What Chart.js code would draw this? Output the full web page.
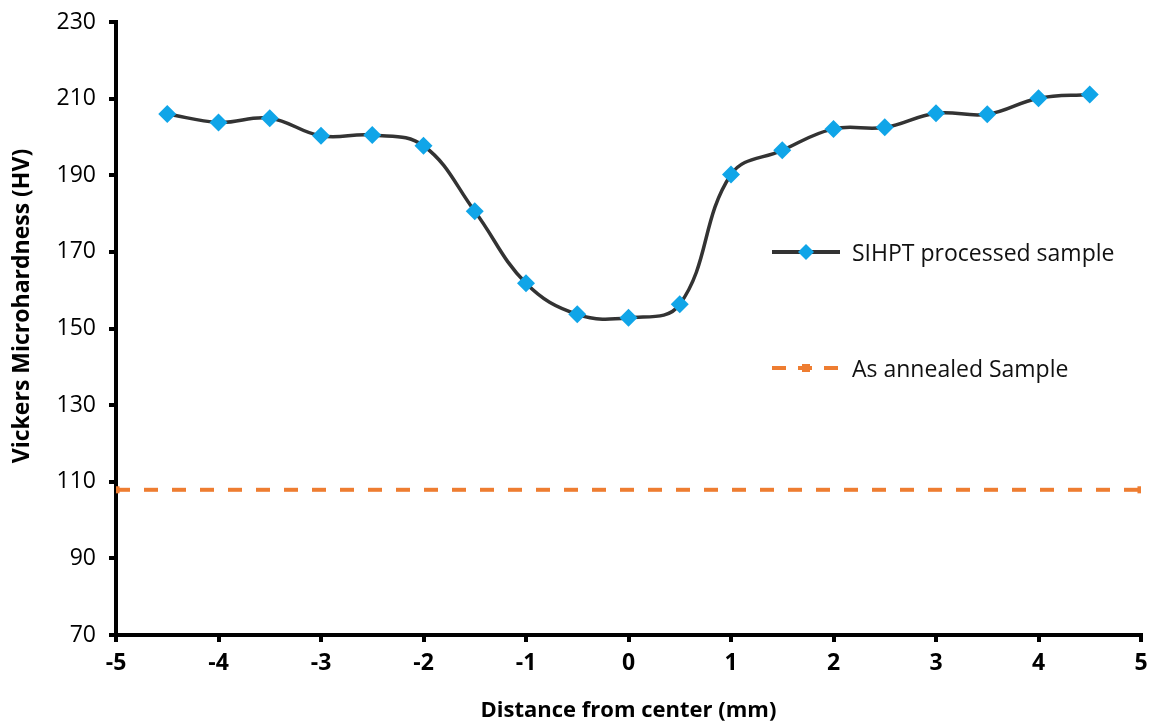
<!DOCTYPE html>
<html>
<head>
<meta charset="utf-8">
<script src="https://cdn.jsdelivr.net/npm/chart.js@4.4.1/dist/chart.umd.min.js"></script>
<style>
  html, body { margin: 0; padding: 0; background: #fff; }
  #wrap { position: relative; width: 1154px; height: 724px; }
  .legend { position: absolute; font-family: "Open Sans", sans-serif; font-size: 23px; color: #111; display: flex; align-items: center; height: 30px; }
  .legend canvas { margin-right: 10px; }
</style>
</head>
<body>
<div id="wrap">
  <canvas id="hardnessChart" width="1154" height="724"></canvas>
  <div class="legend" style="left:772px; top:237px;"><canvas id="leg1" width="70" height="20"></canvas>SIHPT processed sample</div>
  <div class="legend" style="left:772px; top:353px;"><canvas id="leg2" width="70" height="20"></canvas>As annealed Sample</div>
</div>
<script>
// distance from center (mm) and hardness readings
const positions = [-4.5, -4, -3.5, -3, -2.5, -2, -1.5, -1, -0.5, 0, 0.5, 1, 1.5, 2, 2.5, 3, 3.5, 4, 4.5];
const sihptHardness = [206, 203.8, 204.9, 200.3, 200.5, 197.7, 180.6, 161.8, 153.7, 152.8, 156.3, 190.2, 196.5, 202.1, 202.5, 206.2, 205.9, 210.1, 211.1];
const annealedPositions = [-5, 5];
const annealedHardness = [107.9, 107.9];
const xTicks = [-5, -4, -3, -2, -1, 0, 1, 2, 3, 4, 5];

const blue = '#10a5e8';
const orange = '#ee7d31';

// y axis title, drawn a bit above the plot centre like the original
const yTitlePlugin = {
    id: 'yTitle',
    afterDraw(chart) {
        const c = chart.ctx;
        c.save();
        c.translate(22, 306);
        c.rotate(-Math.PI / 2);
        c.font = 'bold 23px "Open Sans"';
        c.fillStyle = '#000';
        c.textAlign = 'center';
        c.textBaseline = 'middle';
        c.fillText('Vickers Microhardness (HV)', 0, 0);
        c.restore();
    }
};

document.addEventListener("DOMContentLoaded", function () {
    const ctx = document.getElementById('hardnessChart').getContext('2d');
    new Chart(ctx, {
        type: 'line',
        data: {
            datasets: [{
                label: 'SIHPT processed sample',
                data: positions.map((x, i) => ({ x: x, y: sihptHardness[i] })),
                borderColor: '#333333',
                borderWidth: 3.5,
                tension: 0.4,
                pointStyle: 'rectRot',
                pointRadius: 9,
                pointBackgroundColor: blue,
                pointBorderColor: blue,
                pointBorderWidth: 0
            }, {
                label: 'As annealed Sample',
                data: annealedPositions.map((x, i) => ({ x: x, y: annealedHardness[i] })),
                borderColor: orange,
                borderWidth: 4,
                borderDash: [14, 14],
                pointStyle: 'rect',
                pointRadius: 5,
                pointBackgroundColor: orange,
                pointBorderColor: orange,
                pointBorderWidth: 0
            }]
        },
        options: {
            responsive: false,
            animation: false,
            layout: { autoPadding: false, padding: { top: 22, right: 13, left: 0, bottom: 0 } },
            plugins: { legend: { display: false }, tooltip: { enabled: false } },
            scales: {
                x: {
                    type: 'linear',
                    min: -5,
                    max: 5,
                    afterBuildTicks: (axis) => { axis.ticks = xTicks.map(v => ({ value: v })); },
                    border: { color: '#000', width: 4 },
                    grid: { drawOnChartArea: false, drawTicks: true, tickLength: 7, color: '#000', lineWidth: 4 },
                    ticks: { color: '#000', padding: 8, font: { family: 'Open Sans', size: 23, weight: 'bold' } },
                    title: {
                        display: true,
                        text: 'Distance from center (mm)',
                        color: '#000',
                        padding: { top: 0, bottom: 0 },
                        font: { family: 'Open Sans', size: 22, weight: 'bold' }
                    },
                    afterFit: (axis) => {
                        axis.height = 89;
                        axis.paddingLeft = 0;
                        axis.paddingRight = 0;
                    }
                },
                y: {
                    min: 70,
                    max: 230,
                    border: { color: '#000', width: 4 },
                    grid: { drawOnChartArea: false, drawTicks: true, tickLength: 7, color: '#000', lineWidth: 4 },
                    ticks: { stepSize: 20, color: '#000', padding: 13, font: { family: 'Open Sans', size: 23 } },
                    afterFit: (axis) => {
                        axis.width = 116;
                        axis.paddingTop = 0;
                        axis.paddingBottom = 0;
                    }
                }
            }
        },
        plugins: [yTitlePlugin]
    });

    // legend swatches
    const l1 = document.getElementById('leg1').getContext('2d');
    l1.strokeStyle = '#333333'; l1.lineWidth = 4;
    l1.beginPath(); l1.moveTo(0, 10); l1.lineTo(68, 10); l1.stroke();
    l1.fillStyle = blue;
    l1.beginPath(); l1.moveTo(34, 2); l1.lineTo(42, 10); l1.lineTo(34, 18); l1.lineTo(26, 10); l1.closePath(); l1.fill();

    const l2 = document.getElementById('leg2').getContext('2d');
    l2.strokeStyle = orange; l2.lineWidth = 4; l2.setLineDash([14, 12]);
    l2.beginPath(); l2.moveTo(0, 10); l2.lineTo(68, 10); l2.stroke();
    l2.fillStyle = orange; l2.fillRect(30, 6, 8, 8);
});
</script>
</body>
</html>
